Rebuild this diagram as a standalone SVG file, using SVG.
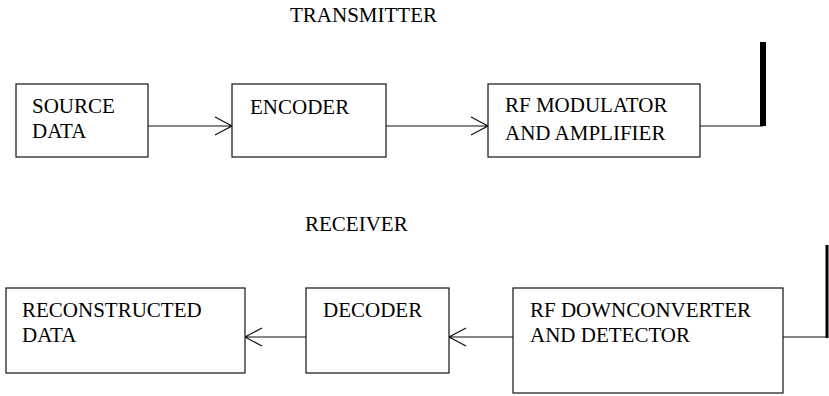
<svg xmlns="http://www.w3.org/2000/svg" width="829" height="396" viewBox="0 0 829 396">
<style>
.box{fill:#fff;stroke:#111;stroke-width:1.2}
.t{font-size:21px;fill:#000}
.ln{fill:none;stroke:#111;stroke-width:1.2}
</style>
<rect width="829" height="396" fill="#fff"/>
<g font-family="'Liberation Serif', 'Times New Roman', 'DejaVu Serif', serif">
<text class="t" x="290" y="22">TRANSMITTER</text>
<text class="t" x="305" y="231">RECEIVER</text>
<g id="connectors">
<path class="ln" d="M148 126H231M215 117L232 126L215 135"/>
<path class="ln" d="M386 126H487M471 117L488 126L471 135"/>
<path class="ln" d="M700 126H763"/>
<rect x="760" y="42" width="6" height="84" fill="#000"/>
<path class="ln" d="M513 337H450M466 328L449 337L466 346"/>
<path class="ln" d="M306 337H246M262 328L245 337L262 346"/>
<path class="ln" d="M783 337H827"/>
<path d="M827 245V338" fill="none" stroke="#000" stroke-width="3"/>
</g>
<g id="source">
<rect class="box" x="16" y="84" width="132" height="73"/>
<text class="t" x="32" y="113">SOURCE</text>
<text class="t" x="32" y="138">DATA</text>
</g>
<g id="encoder">
<rect class="box" x="232" y="84" width="154" height="73"/>
<text class="t" x="250" y="114">ENCODER</text>
</g>
<g id="modulator">
<rect class="box" x="488" y="84" width="212" height="73"/>
<text class="t" x="505" y="112">RF MODULATOR</text>
<text class="t" x="505" y="140">AND AMPLIFIER</text>
</g>
<g id="reconstructed">
<rect class="box" x="6" y="288" width="239" height="85"/>
<text class="t" x="22" y="317">RECONSTRUCTED</text>
<text class="t" x="22" y="342">DATA</text>
</g>
<g id="decoder">
<rect class="box" x="306" y="288" width="143" height="85"/>
<text class="t" x="323" y="317">DECODER</text>
</g>
<g id="downconverter">
<rect class="box" x="513" y="288" width="270" height="105"/>
<text class="t" x="530" y="317">RF DOWNCONVERTER</text>
<text class="t" x="530" y="342">AND DETECTOR</text>
</g>
</g>
</svg>
